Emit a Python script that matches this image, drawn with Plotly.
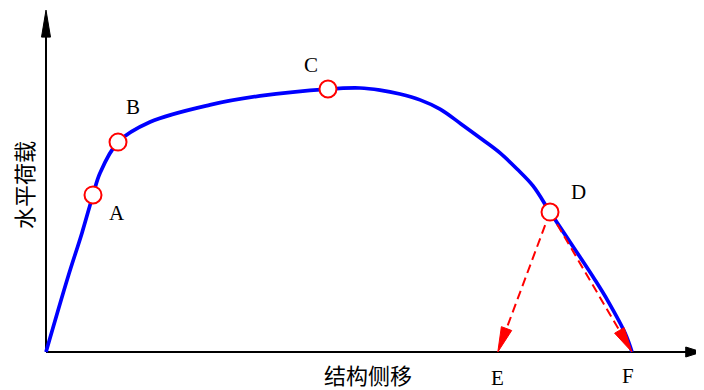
import math
import plotly.graph_objects as go

# 荷载-位移曲线（相对值）
disp = [0, 3.75, 6.14, 8.02, 9.22, 12.29, 17.75, 27.99, 36.52, 48.12, 53.58,
        56.99, 60.41, 63.82, 67.24, 70.82, 74.57, 77.47, 80.38, 83.11,
        86.01, 90.10, 93.69, 95.90, 98.81, 100]
load = [0, 28.4, 45.1, 59.5, 67.8, 79.5, 87.1, 93.6, 97.0, 99.6, 100.0,
        99.2, 97.7, 95.5, 92.0, 86.4, 80.3, 75.4, 69.3, 62.9,
        53.0, 39.4, 27.3, 19.3, 7.2, 0]

# 特征点
point_names = ["A", "B", "C", "D"]
point_disp = [8.02, 12.29, 48.12, 86.01]
point_load = [59.5, 79.5, 99.6, 53.0]

# 卸载终点
end_names = ["E", "F"]
end_disp = [77.1, 100]
end_load = [0, 0]

# 坐标轴终点
x_axis_end = 111.9
y_axis_end = 129.5

W, H = 704, 390
OFF = 8  # 页面 body 默认边距
SX = 5.86
SY = 2.64
X_RANGE = [(-46 + OFF) / SX, (W - 46 + OFF) / SX]
Y_RANGE = [(352 - H - OFF) / SY, (352 - OFF) / SY]

BLUE = "#0000FF"
RED = "#FF0000"


def arrow_head(tip, tail, length_px, half_px):
    """箭头三角形（像素尺寸 -> 数据坐标）"""
    dx = (tip[0] - tail[0]) * SX
    dy = (tip[1] - tail[1]) * SY
    n = math.hypot(dx, dy)
    ux, uy = dx / n, dy / n
    bx = tip[0] * SX - ux * length_px
    by = tip[1] * SY - uy * length_px
    px, py = -uy, ux
    xs = [tip[0], (bx + px * half_px) / SX, (bx - px * half_px) / SX, tip[0]]
    ys = [tip[1], (by + py * half_px) / SY, (by - py * half_px) / SY, tip[1]]
    base = (bx / SX, by / SY)
    return xs, ys, base


fig = go.Figure()

# 坐标轴
for tip, length, half in [((x_axis_end, 0), 16, 5), ((0, y_axis_end), 27, 4.5)]:
    xs, ys, base = arrow_head(tip, (0, 0), length, half)
    fig.add_trace(go.Scatter(x=[0, base[0] + (tip[0] > 0) * 0.3], y=[0, base[1] + (tip[1] > 0) * 0.5],
                             mode="lines", line=dict(color="black", width=2),
                             hoverinfo="skip"))
    fig.add_trace(go.Scatter(x=xs, y=ys, mode="lines", fill="toself",
                             fillcolor="black", line=dict(color="black", width=1),
                             hoverinfo="skip"))

# 主曲线
fig.add_trace(go.Scatter(x=disp, y=load, mode="lines",
                         line=dict(color=BLUE, width=3.7, shape="spline", smoothing=1.0),
                         hoverinfo="skip"))

# D 点卸载虚线箭头
d = (point_disp[3], point_load[3])
for ex, ey in zip(end_disp, end_load):
    xs, ys, base = arrow_head((ex, ey), d, 25, 5.5)
    fig.add_trace(go.Scatter(x=[d[0], base[0]], y=[d[1], base[1]], mode="lines",
                             line=dict(color=RED, width=2, dash="9px,5px"),
                             hoverinfo="skip"))
    fig.add_trace(go.Scatter(x=xs, y=ys, mode="lines", fill="toself",
                             fillcolor=RED, line=dict(color=RED, width=1),
                             hoverinfo="skip"))

# 特征点圆圈
fig.add_trace(go.Scatter(x=point_disp, y=point_load, mode="markers",
                         marker=dict(symbol="circle", size=17, color="white",
                                     line=dict(color=RED, width=2)),
                         hoverinfo="skip"))

letter_font = dict(family="Liberation Serif, Times New Roman, serif", size=21, color="black")
shifts = {"A": (24, -18), "B": (15, 35), "C": (-17, 24), "D": (28, 20)}
for name, x, y in zip(point_names, point_disp, point_load):
    fig.add_annotation(x=x, y=y, text=name, showarrow=False, font=letter_font,
                       xanchor="center", yanchor="middle",
                       xshift=shifts[name][0], yshift=shifts[name][1])

end_shifts = {"E": (0, -26), "F": (-4, -24)}
for name, x, y in zip(end_names, end_disp, end_load):
    fig.add_annotation(x=x, y=y, text=name, showarrow=False, font=letter_font,
                       xanchor="center", yanchor="middle",
                       xshift=end_shifts[name][0], yshift=end_shifts[name][1])

cjk_font = dict(family="Noto Sans CJK SC", size=22, color="black")
fig.add_annotation(x=(23 - OFF) / W, y=1 - (185 - OFF) / H, xref="paper", yref="paper",
                   text="水平荷载", textangle=-90, showarrow=False, font=cjk_font,
                   xanchor="center", yanchor="middle")
fig.add_annotation(x=(368 - OFF) / W, y=1 - (374 - OFF) / H, xref="paper", yref="paper",
                   text="结构侧移", showarrow=False, font=cjk_font,
                   xanchor="center", yanchor="middle", borderpad=0)

fig.update_layout(
    width=W, height=H, autosize=False,
    margin=dict(l=0, r=0, t=0, b=0),
    paper_bgcolor="white", plot_bgcolor="white",
    showlegend=False,
    xaxis=dict(range=X_RANGE, visible=False, fixedrange=True),
    yaxis=dict(range=Y_RANGE, visible=False, fixedrange=True),
)

fig.write_html("out.html")
